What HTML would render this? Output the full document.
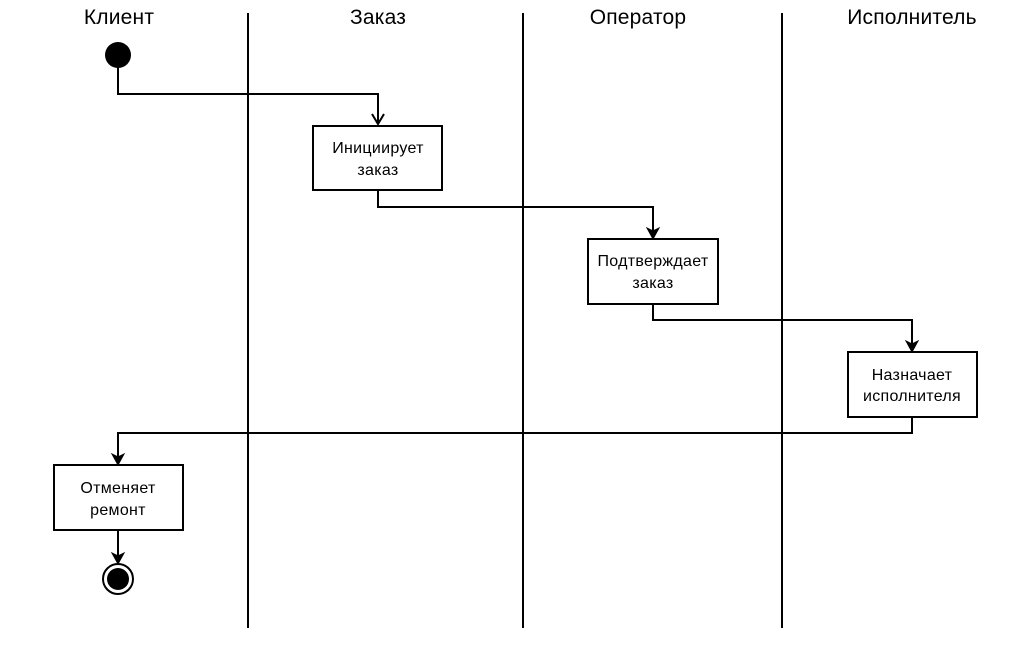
<!DOCTYPE html>
<html><head><meta charset="utf-8"><style>
html,body{margin:0;padding:0;background:#fff;}
svg{display:block;}
text{font-family:"Liberation Sans","DejaVu Sans",sans-serif;}
</style></head><body>
<svg width="1020" height="655" viewBox="0 0 1020 655" xmlns="http://www.w3.org/2000/svg">
<g stroke="#000" stroke-width="2" fill="none">
<line x1="248" y1="13" x2="248" y2="628"/>
<line x1="523" y1="13" x2="523" y2="628"/>
<line x1="782" y1="13" x2="782" y2="628"/>
<polyline points="118,67 118,94 378,94 378,124"/>
<polyline points="372,114 378,124 384,114"/>
<polyline points="378,190 378,207 653,207 653,231"/>
<polyline points="653,304 653,320 912,320 912,344"/>
<polyline points="912,417 912,433 118,433 118,457"/>
<polyline points="118,530 118,556"/>
<rect x="313" y="126" width="129" height="64" fill="#fff"/>
<rect x="588" y="239" width="130" height="65" fill="#fff"/>
<rect x="848" y="352" width="129" height="65" fill="#fff"/>
<rect x="54" y="465" width="129" height="65" fill="#fff"/>
</g>
<g fill="#000" stroke="#000" stroke-width="1">
<polygon points="647,228 653,239 659,228 653,231"/>
<polygon points="906,341 912,352 918,341 912,344"/>
<polygon points="112,454 118,465 124,454 118,457"/>
<polygon points="112,553 118,564 124,553 118,556"/>
</g>
<circle cx="118" cy="55" r="13" fill="#000"/>
<circle cx="118" cy="579" r="15" fill="#fff" stroke="#000" stroke-width="2"/>
<circle cx="118" cy="579" r="11" fill="#000"/>
<g font-size="21" text-anchor="middle" fill="#000" letter-spacing="0.2">
<text x="119" y="24">Клиент</text>
<text x="378" y="24">Заказ</text>
<text x="638" y="24">Оператор</text>
<text x="912" y="24">Исполнитель</text>
</g>
<g font-size="16" text-anchor="middle" fill="#000" letter-spacing="0.3">
<text x="378" y="153">Инициирует</text>
<text x="378" y="175">заказ</text>
<text x="653" y="266">Подтверждает</text>
<text x="653" y="288">заказ</text>
<text x="912" y="380">Назначает</text>
<text x="912" y="401">исполнителя</text>
<text x="118" y="493">Отменяет</text>
<text x="118" y="515">ремонт</text>
</g>
</svg>
</body></html>
